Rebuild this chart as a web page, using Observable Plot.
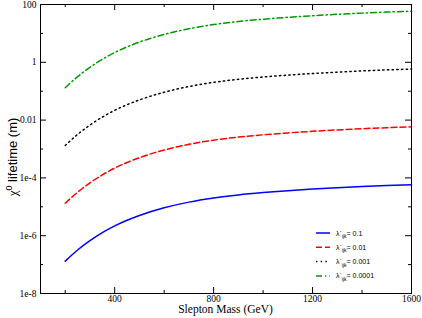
<!DOCTYPE html>
<html>
<head>
<meta charset="utf-8">
<script src="https://cdn.jsdelivr.net/npm/d3@7"></script>
<script src="https://cdn.jsdelivr.net/npm/@observablehq/plot@0.6"></script>
<style>
  html, body { margin: 0; padding: 0; background: #fff; }
  #chart { width: 422px; height: 318px; }
</style>
</head>
<body>
<div id="chart"></div>
<script>
// Slepton mass (GeV)
const mass = [200, 250, 300, 350, 400, 450, 500, 600, 700, 800, 900, 1000, 1100, 1200, 1300, 1400, 1500, 1600];
// neutralino lifetime (m) for each lambda'_ijk
const life01 = [1.32e-7, 3.2e-7, 6.72e-7, 1.27e-6, 2.18e-6, 3.41e-6, 5.0e-6, 9.2e-6, 1.45e-5, 2.02e-5, 2.58e-5, 3.1e-5, 3.6e-5, 4.09e-5, 4.57e-5, 5.03e-5, 5.46e-5, 5.84e-5];
const life001 = [1.32e-5, 3.2e-5, 6.72e-5, 1.27e-4, 2.18e-4, 3.41e-4, 5.0e-4, 9.2e-4, 1.45e-3, 2.02e-3, 2.58e-3, 3.1e-3, 3.6e-3, 4.09e-3, 4.57e-3, 5.03e-3, 5.46e-3, 5.84e-3];
const life0001 = [1.32e-3, 3.2e-3, 6.72e-3, 1.27e-2, 2.18e-2, 3.41e-2, 5.0e-2, 9.2e-2, 0.145, 0.202, 0.258, 0.31, 0.36, 0.409, 0.457, 0.503, 0.546, 0.584];
const life00001 = [0.132, 0.32, 0.672, 1.27, 2.18, 3.41, 5.0, 9.2, 14.5, 20.2, 25.8, 31, 36, 40.9, 45.7, 50.3, 54.6, 58.4];

const seriesLabels = ["0.1", "0.01", "0.001", "0.0001"];
const seriesValues = [life01, life001, life0001, life00001];
const seriesColors = ["#0000ff", "#ff0000", "#000000", "#009a00"];
const seriesDash = [null, "6,3", "1.4,3.3", "6,3,1.4,3"];

const xMajor = [400, 800, 1200, 1600];
const xMinor = [200, 600, 1000, 1400];
const yMajor = [1e-8, 1e-6, 1e-4, 1e-2, 1, 100];
const yMajorLabels = ["1e-8", "1e-6", "1e-4", "0.01", "1", "100"];
const yMinor = [1e-7, 1e-5, 1e-3, 1e-1, 10];

const W = 422, H = 318;
const mL = 40, mR = 11, mT = 4, mB = 25;
const fw = W - mL - mR, fh = H - mT - mB;

const rows = [];
seriesValues.forEach((vals, s) => {
  vals.forEach((v, i) => rows.push({m: mass[i], t: v, s}));
});

const lineMarks = seriesValues.map((vals, s) =>
  Plot.line(rows.filter(r => r.s === s), {
    x: "m", y: "t", stroke: seriesColors[s], strokeWidth: 1.5,
    strokeDasharray: seriesDash[s], curve: "monotone-x"
  })
);

const serif = "'Liberation Serif', 'Times New Roman', serif";
const sans = "'Liberation Sans', Arial, sans-serif";

const plot = Plot.plot({
  width: W, height: H,
  marginLeft: mL, marginRight: mR, marginTop: mT, marginBottom: mB,
  style: {fontFamily: serif, fontSize: "9.5px", background: "#fff", color: "#000"},
  x: {domain: [100, 1600]},
  y: {type: "log", domain: [1e-8, 100]},
  marks: [
    ...lineMarks,
    // inward ticks
    Plot.tickX(xMajor, {x: d => d, insetTop: fh - 6, stroke: "#000"}),
    Plot.tickX(xMinor, {x: d => d, insetTop: fh - 3, stroke: "#000"}),
    Plot.tickX(xMajor, {x: d => d, insetBottom: fh - 6, stroke: "#000"}),
    Plot.tickX(xMinor, {x: d => d, insetBottom: fh - 3, stroke: "#000"}),
    Plot.tickY(yMajor, {y: d => d, insetRight: fw - 6, stroke: "#000"}),
    Plot.tickY(yMinor, {y: d => d, insetRight: fw - 3, stroke: "#000"}),
    Plot.tickY(yMajor, {y: d => d, insetLeft: fw - 6, stroke: "#000"}),
    Plot.tickY(yMinor, {y: d => d, insetLeft: fw - 3, stroke: "#000"}),
    Plot.axisX({ticks: xMajor, tickSize: 0, tickPadding: 2, label: null, tickFormat: d => String(d)}),
    Plot.axisY({ticks: yMajor, tickSize: 0, tickPadding: 4, label: null,
      tickFormat: d => yMajorLabels[yMajor.findIndex(v => Math.abs(Math.log10(v) - Math.log10(d)) < 1e-6)]}),
    Plot.frame({stroke: "#000", strokeWidth: 1})
  ]
});

document.getElementById("chart").appendChild(plot);

const svg = d3.select(plot);

// x axis title
svg.append("text")
  .attr("x", mL + fw / 2).attr("y", 313)
  .attr("text-anchor", "middle")
  .attr("font-family", serif).attr("font-size", "11.5px").attr("fill", "#000")
  .text("Slepton Mass (GeV)");

// y axis title
const yt = svg.append("text")
  .attr("transform", `translate(17,157) rotate(-90)`)
  .attr("text-anchor", "middle")
  .attr("font-family", sans).attr("font-size", "13px").attr("fill", "#000");
yt.append("tspan").attr("font-family", serif).text("χ");
yt.append("tspan").attr("font-size", "9px").attr("dy", "-5").text("0");
yt.append("tspan").attr("dy", "5").text(" lifetime (m)");

// legend
const legX1 = mL + fw - 95, legX2 = mL + fw - 81, legTX = mL + fw - 75;
const legY0 = 233, legDY = 14.3;
seriesLabels.forEach((lab, s) => {
  const y = legY0 + s * legDY;
  svg.append("line")
    .attr("x1", legX1).attr("x2", legX2).attr("y1", y).attr("y2", y)
    .attr("stroke", seriesColors[s]).attr("stroke-width", 1.5)
    .attr("stroke-dasharray", seriesDash[s]);
  const t = svg.append("text")
    .attr("x", legTX).attr("y", y + 2.5)
    .attr("text-anchor", "start")
    .attr("font-family", sans).attr("font-size", "7px").attr("fill", "#000");
  t.append("tspan").text("λ`");
  t.append("tspan").attr("font-size", "5px").attr("dy", "2.5").text("ijk");
  t.append("tspan").attr("dy", "-2.5").text("= " + lab);
});
</script>
</body>
</html>
